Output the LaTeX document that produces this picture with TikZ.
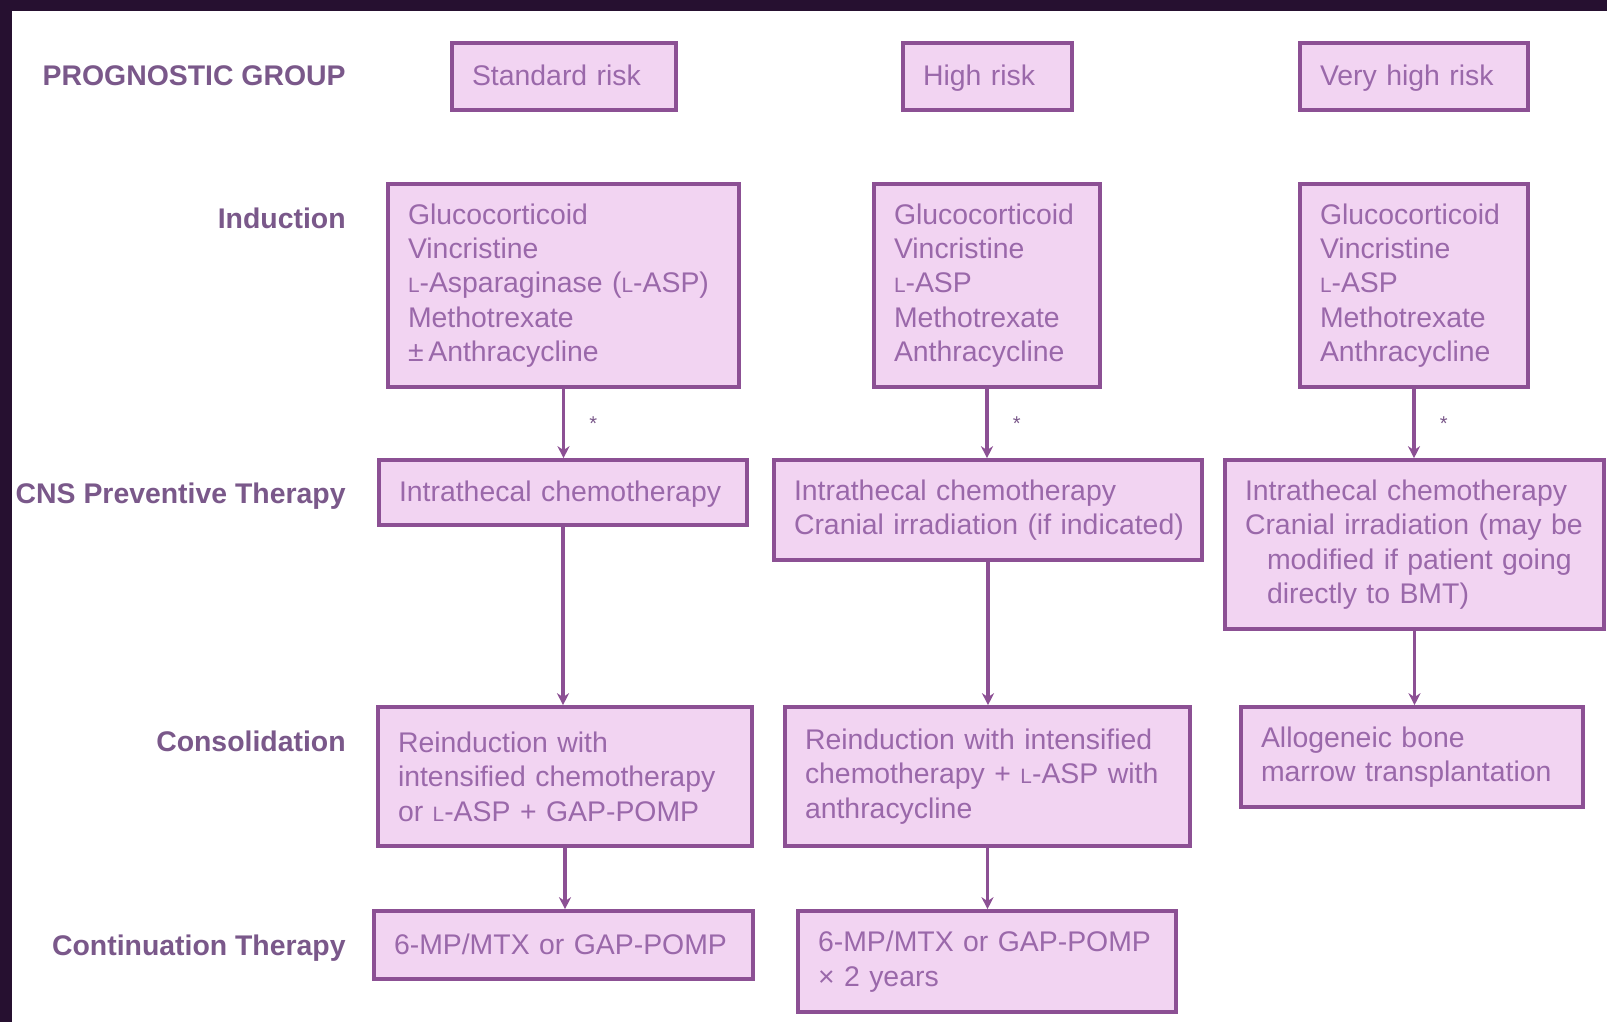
\documentclass[tikz,border=0pt]{standalone}
\usepackage{fontspec}
\setmainfont{Liberation Sans}
\usepackage{tikz}
\usetikzlibrary{positioning, arrows.meta}

\definecolor{cornice}{RGB}{38,16,48}
\definecolor{riempi}{RGB}{242,212,242}
\definecolor{bordo}{RGB}{140,80,148}
\definecolor{testo}{RGB}{154,104,170}
\definecolor{etichetta}{RGB}{122,88,138}
\newcommand{\smallL}{{\fontsize{10.4pt}{12pt}\selectfont L}}

\begin{document}
\begin{tikzpicture}[x=0.5pt, y=-0.5pt,
    box/.style={rectangle, draw=bordo, line width=1.8pt, fill=riempi, text=testo, align=left,
        font=\fontsize{14.2pt}{17.2pt}\selectfont, inner xsep=10pt, inner ysep=0pt},
    riga/.style={box, text height=10.5pt, text depth=1.5pt},
    lbl/.style={anchor=east, text=etichetta, font=\bfseries\fontsize{14.2pt}{17.2pt}\selectfont,
        inner sep=0pt, text height=10.5pt, text depth=0pt},
    freccia/.style={draw=bordo, line width=1.8pt, -{Stealth[length=6pt, width=6pt]}},
    stella/.style={text=etichetta, font=\fontsize{10pt}{10pt}\selectfont, inner sep=0pt}]
				% Sfondo e cornice
				\fill[white] (0,0) rectangle (1607,1022);
				\useasboundingbox (0,0) rectangle (1607,1022);
				\fill[cornice] (0,0) rectangle (1607,11);
				\fill[cornice] (0,0) rectangle (12,1022);
				
				% Etichette delle fasi
				\node[lbl] (lgroup) at (346,75) {PROGNOSTIC GROUP};
				\node[lbl] (lind) at (346,218) {Induction};
				\node[lbl] (lcns) at (346,493) {CNS Preventive Therapy};
				\node[lbl] (lcons) at (346,741) {Consolidation};
				\node[lbl] (lcont) at (346,945) {Continuation Therapy};
				
				% Gruppi di rischio
				\node[riga, text width=92pt, minimum height=33.5pt] (stdrisk) at (564,76.5) {Standard risk};
				\node[riga, text width=64.5pt, minimum height=33.5pt] (highrisk) at (987.5,76.5) {High risk};
				\node[riga, text width=94pt, minimum height=33.5pt] (vhrisk) at (1414,76.5) {Very high risk};
				
				% Induzione
				\node[box, text width=155.5pt, minimum height=101.5pt] (indstd) at (563.5,285.5)
				    {Glucocorticoid\\Vincristine\\\smallL-Asparaginase (\smallL-ASP)\\Methotrexate\\±\,Anthracycline};
				\node[box, text width=93pt, minimum height=101.5pt] (indhigh) at (987,285.5)
				    {Glucocorticoid\\Vincristine\\\smallL-ASP\\Methotrexate\\Anthracycline};
				\node[box, text width=94pt, minimum height=101.5pt] (indvh) at (1414,285.5)
				    {Glucocorticoid\\Vincristine\\\smallL-ASP\\Methotrexate\\Anthracycline};
				
				% Profilassi SNC
				\node[riga, text width=164pt, minimum height=32.5pt] (cnsstd) at (563,492.5) {Intrathecal chemotherapy};
				\node[box, text width=194pt, minimum height=50pt] (cnshigh) at (988,510)
				    {Intrathecal chemotherapy\\\mbox{Cranial irradiation (if indicated)}};
				\node[box, text width=169.5pt, minimum height=84.5pt] (cnsvh) at (1414.5,544.5)
				    {Intrathecal chemotherapy\\\mbox{Cranial irradiation (may be}\\\hspace*{11pt}modified if patient going\\\hspace*{11pt}directly to BMT)};
				
				% Consolidamento
				\node[box, text width=167pt, minimum height=69.5pt] (consstd) at (565,776.5)
				    {Reinduction with\\intensified chemotherapy\\or \smallL-ASP + GAP-POMP};
				\node[box, text width=182.5pt, minimum height=69.5pt] (conshigh) at (987.5,776.5)
				    {Reinduction with intensified\\chemotherapy + \smallL-ASP with\\anthracycline};
				\node[box, text width=151pt, minimum height=50pt] (consvh) at (1412,757)
				    {Allogeneic bone\\marrow transplantation};
				
				% Mantenimento
				\node[riga, text width=169.5pt, minimum height=34pt] (contstd) at (563.5,945) {6-MP/MTX or GAP-POMP};
				\node[box, text width=169pt, minimum height=50.5pt] (conthigh) at (987,961.5)
				    {6-MP/MTX or GAP-POMP\\× 2 years};
				
				% Frecce
				\draw[freccia] (indstd) -- node[stella, right=12pt] (astd) {*} (indstd |- cnsstd.north);
				\draw[freccia] (indhigh) -- node[stella, right=12pt] (ahigh) {*} (indhigh |- cnshigh.north);
				\draw[freccia] (indvh) -- node[stella, right=12pt] (avh) {*} (indvh |- cnsvh.north);
				\draw[freccia] (cnsstd) -- (cnsstd |- consstd.north);
				\draw[freccia] (cnshigh) -- (cnshigh |- conshigh.north);
				\draw[freccia] (cnsvh) -- (cnsvh |- consvh.north);
				\draw[freccia] (consstd) -- (consstd |- contstd.north);
				\draw[freccia] (conshigh) -- (conshigh |- conthigh.north);
			\end{tikzpicture}
\end{document}
